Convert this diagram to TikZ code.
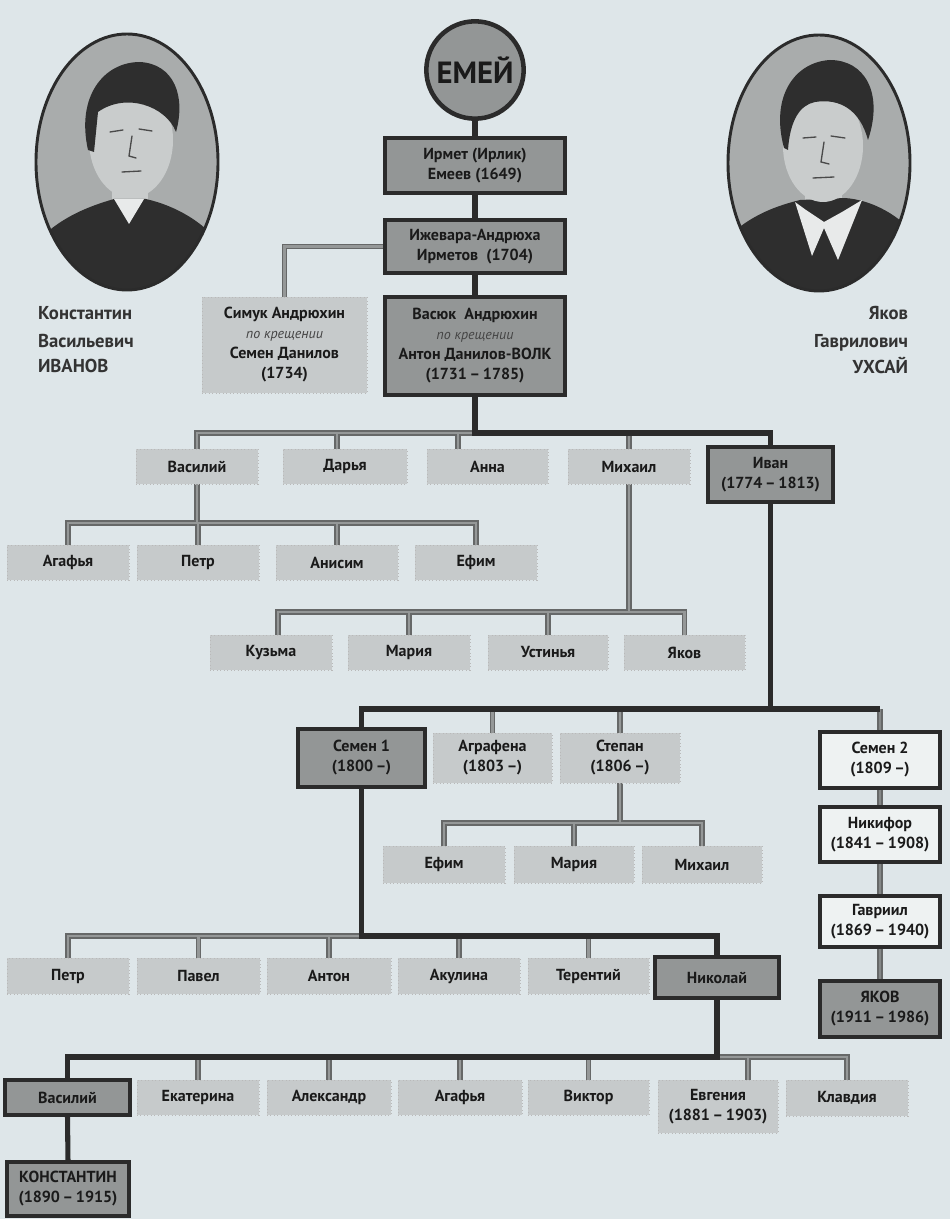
\documentclass[tikz,border=0pt]{standalone}
\usepackage{fontspec}
\setmainfont{PT Sans}
\definecolor{bgc}{HTML}{DEE6E9}
\definecolor{dline}{HTML}{2B2B2B}
\definecolor{ltouter}{HTML}{666868}
\definecolor{ltinner}{HTML}{959898}
\definecolor{midinner}{HTML}{858888}
\definecolor{dkfill}{HTML}{939696}
\definecolor{ltfill}{HTML}{C6CACB}
\definecolor{wfill}{HTML}{EEF2F2}
\definecolor{txt}{HTML}{1A1A1A}
\definecolor{italc}{HTML}{444444}
\definecolor{photobg}{HTML}{A9ACAC}
\definecolor{photodk}{HTML}{2E2E2E}
\definecolor{face}{HTML}{C9CCCC}
\definecolor{photolt}{HTML}{E8EAEA}
\definecolor{featc}{HTML}{4A4A4A}
\pgfdeclarelayer{bg}
\pgfdeclarelayer{lines}
\pgfsetlayers{bg,lines,main}
\newcommand\krsch{{\mdseries\itshape\color{italc}\fontsize{10.5}{14}\selectfont по крещении}}
\newcommand\bx[7]{\pgfmathsetmacro\bxw{(#5-#3)*0.75}\pgfmathsetmacro\bxh{(#6-#4)*0.75}%
  \node[#2,minimum width=\bxw pt,minimum height=\bxh pt] (#1) at ({(#3+#5)/2},{(#4+#6)/2}) {#7};}
\newcommand\drp[2]{\draw (#1.north) -- (#1.north |- #2);}
\newcommand\lightnet{%
  \draw (izhev.west) -| (simuk.north);
  \draw (vas1.north) |- (vasyuk.south |- b1);
  \draw (dar.north -| dDar) -- (dDar);
  \draw (ann.north -| dAnn) -- (dAnn);
  \drp{mikh1}{b1}
  \draw (vas1.south) -- (vas1.south |- b2);
  \draw (agaf1.north) |- (efim1.north |- b2) -- (efim1.north);
  \drp{petr1}{b2}\drp{anis}{b2}
  \draw (mikh1.south) -- (mikh1.south |- b3);
  \draw (kuzma.north -| dKuz) -- (dKuz) -- (yakov1.north |- b3) -- (yakov1.north);
  \drp{mariya1}{b3}\drp{ustin}{b3}
  \drp{agraf}{b4}\drp{stepan}{b4}
  \draw (stepan.south) -- (stepan.south |- b5);
  \draw (efim2.north) |- (mikh2.north |- b5) -- (mikh2.north);
  \drp{mariya2}{b5}
  \draw (petr2.north) |- (semen1.south |- b6);
  \drp{pavel}{b6}\drp{anton}{b6}\drp{akul}{b6}\drp{teren}{b6}
  \draw (nikol.south |- b7) -| (klav.north);
  \drp{ekat}{b7}\drp{alex}{b7}\drp{agaf2}{b7}\drp{viktor}{b7}
  \draw (evgen.north -| dEvg) -- (dEvg);
}
\newcommand\midnet{%
  \draw (semen2.north |- b4) -- (semen2.north);
  \draw (semen2.south) -- (nikif.north);
  \draw (nikif.south) -- (gavr.north);
  \draw (gavr.south) -- (yakov2.north);
}
\begin{document}
\begin{tikzpicture}[x=0.75pt,y=-0.75pt,
  every node/.style={inner sep=0pt,outer sep=0pt,align=center,text=txt},
  boxfont/.style={font=\bfseries\fontsize{12}{15}\selectfont},
  boxdk/.style={boxfont,draw=dline,line width=3.4pt,fill=dkfill},
  boxlt/.style={boxfont,draw=gray!55,dotted,line width=0.6pt,fill=ltfill},
  boxwh/.style={boxfont,draw=dline,line width=3pt,fill=wfill},
  capt/.style={font=\bfseries\fontsize{14}{18}\selectfont,text=black!80},
  feat/.style={draw=featc,line width=1pt,line cap=round}]

\begin{pgfonlayer}{bg}
  \fill[bgc] (0,0) rectangle (950,1219);
\end{pgfonlayer}

% ---------- portraits ----------
\begin{scope}
  \clip (127,162) ellipse [x radius=91,y radius=128];
  \fill[photobg] (30,30) rectangle (230,300);
  \fill[face] (112,170) rectangle (148,205);
  \fill[photodk] (20,300) -- (30,250) .. controls (55,218) and (90,206) .. (114,199) -- (146,199) .. controls (176,206) and (205,222) .. (225,250) -- (235,300) -- cycle;
  \fill[photolt] (114,199) -- (129,224) -- (144,199) -- cycle;
  \fill[face] (131,140) ellipse [x radius=42,y radius=58];
  \fill[photodk] (88,150) .. controls (76,96) and (104,62) .. (140,62) .. controls (174,64) and (186,96) .. (176,132) .. controls (166,106) and (126,92) .. (98,112) -- (94,152) -- cycle;
  \draw[feat] (110,132) -- (123,130);
  \draw[feat] (139,129) -- (152,131);
  \draw[feat] (132,136) -- (129,156) -- (136,158);
  \draw[feat] (122,172) -- (141,171);
\end{scope}
\draw[dline,line width=2.2pt] (127,162) ellipse [x radius=91,y radius=128];

\begin{scope}
  \clip (819,163) ellipse [x radius=91,y radius=128];
  \fill[photobg] (720,30) rectangle (920,300);
  \fill[face] (805,175) rectangle (842,215);
  \fill[photodk] (715,300) -- (725,240) .. controls (750,214) and (780,205) .. (800,200) -- (845,198) .. controls (872,200) and (900,215) .. (920,240) -- (925,300) -- cycle;
  \fill[photolt] (795,202) -- (812,256) -- (824,228) -- (838,260) -- (862,200) -- (842,212) -- (824,222) -- (806,210) -- cycle;
  \fill[face] (823,146) ellipse [x radius=40,y radius=56];
  \fill[photodk] (784,148) .. controls (770,96) and (795,62) .. (830,60) .. controls (864,60) and (884,92) .. (868,140) .. controls (860,110) and (840,98) .. (815,102) .. controls (800,105) and (790,120) .. (788,150) -- cycle;
  \draw[feat] (803,138) -- (816,137);
  \draw[feat] (831,136) -- (845,138);
  \draw[feat] (824,142) -- (821,162) -- (829,164);
  \draw[feat] (813,178) -- (834,177);
\end{scope}
\draw[dline,line width=2.2pt] (819,163) ellipse [x radius=91,y radius=128];

% ---------- captions ----------
\node[capt,anchor=base west] (capL1) at (38,320) {Константин};
\node[capt,anchor=base west] (capL2) at (38,347) {Васильевич};
\node[capt,anchor=base west] (capL3) at (38,372) {ИВАНОВ};
\node[capt,anchor=base east] (capR1) at (908,320) {Яков};
\node[capt,anchor=base east] (capR2) at (908,347) {Гаврилович};
\node[capt,anchor=base east] (capR3) at (908,373) {УХСАЙ};

% ---------- nodes ----------
\node[circle,draw=dline,line width=3.4pt,fill=dkfill,minimum size=73pt,font=\bfseries\fontsize{23}{23}\selectfont] (emei) at (475,70) {ЕМЕЙ};
\bx{irmet}{boxdk}{385}{138}{565}{193}{Ирмет (Ирлик)\\Емеев (1649)}
\bx{izhev}{boxdk}{385}{220}{565}{273}{Ижевара-Андрюха\\Ирметов\ \ (1704)}
\bx{simuk}{boxlt}{202}{297}{367}{393}{Симук Андрюхин\\ \krsch \\Семен Данилов\\(1734)}
\bx{vasyuk}{boxdk}{385}{297}{565}{395}{Васюк\ \ Андрюхин\\ \krsch \\Антон Данилов-ВОЛК\\(1731\,–\,1785)}

\bx{vas1}{boxlt}{136}{449}{258}{484}{Василий}
\bx{dar}{boxlt}{283}{449}{407}{484}{Дарья}
\bx{ann}{boxlt}{427}{449}{548}{484}{Анна}
\bx{mikh1}{boxlt}{568}{449}{690}{484}{Михаил}
\bx{ivan}{boxdk}{708}{447}{833}{502}{Иван\\(1774\,–\,1813)}

\bx{agaf1}{boxlt}{7}{545}{129}{580}{Агафья}
\bx{petr1}{boxlt}{137}{545}{259}{580}{Петр}
\bx{anis}{boxlt}{276}{545}{398}{580}{Анисим}
\bx{efim1}{boxlt}{415}{545}{537}{580}{Ефим}

\bx{kuzma}{boxlt}{210}{635}{332}{670}{Кузьма}
\bx{mariya1}{boxlt}{348}{635}{470}{670}{Мария}
\bx{ustin}{boxlt}{488}{635}{608}{670}{Устинья}
\bx{yakov1}{boxlt}{624}{635}{745}{670}{Яков}

\bx{semen1}{boxdk}{298}{729}{425}{787}{Семен 1\\(1800\,–)}
\bx{agraf}{boxlt}{433}{733}{552}{783}{Аграфена\\(1803\,–)}
\bx{stepan}{boxlt}{560}{733}{680}{783}{Степан\\(1806\,–)}
\bx{semen2}{boxwh}{820}{732}{940}{788}{Семен 2\\(1809\,–)}

\bx{efim2}{boxlt}{383}{846}{505}{883}{Ефим}
\bx{mariya2}{boxlt}{514}{846}{634}{883}{Мария}
\bx{mikh2}{boxlt}{642}{846}{762}{883}{Михаил}

\bx{nikif}{boxwh}{820}{807}{940}{862}{Никифор\\(1841\,–\,1908)}
\bx{gavr}{boxwh}{820}{896}{940}{947}{Гавриил\\(1869\,–\,1940)}
\bx{yakov2}{boxdk}{820}{981}{940}{1037}{ЯКОВ\\(1911\,–\,1986)}

\bx{petr2}{boxlt}{7}{958}{129}{994}{Петр}
\bx{pavel}{boxlt}{137}{958}{260}{994}{Павел}
\bx{anton}{boxlt}{267}{958}{391}{994}{Антон}
\bx{akul}{boxlt}{398}{958}{520}{994}{Акулина}
\bx{teren}{boxlt}{528}{958}{649}{994}{Терентий}
\bx{nikol}{boxdk}{655}{957}{779}{998}{Николай}

\bx{vas2}{boxdk}{5}{1080}{130}{1115}{Василий}
\bx{ekat}{boxlt}{137}{1080}{259}{1115}{Екатерина}
\bx{alex}{boxlt}{267}{1080}{391}{1115}{Александр}
\bx{agaf2}{boxlt}{398}{1080}{522}{1115}{Агафья}
\bx{viktor}{boxlt}{528}{1080}{649}{1115}{Виктор}
\bx{evgen}{boxlt}{658}{1080}{778}{1133}{Евгения\\(1881\,–\,1903)}
\bx{klav}{boxlt}{786}{1080}{908}{1116}{Клавдия}

\bx{konst}{boxdk}{7}{1162}{129}{1216}{КОНСТАНТИН\\(1890\,–\,1915)}

% ---------- bar levels ----------
\coordinate (b1) at (0,433);
\coordinate (b2) at (0,523);
\coordinate (b3) at (0,612);
\coordinate (b4) at (0,709);
\coordinate (b5) at (0,823);
\coordinate (b6) at (0,936);
\coordinate (b7) at (0,1057);
\coordinate (dDar) at (337,433);
\coordinate (dAnn) at (458,433);
\coordinate (dKuz) at (278,612);
\coordinate (dEvg) at (748,1057);

% ---------- connectors ----------
\begin{pgfonlayer}{lines}
  \begin{scope}[draw=ltouter,line width=3.8pt]
    \lightnet
    \midnet
  \end{scope}
  \begin{scope}[draw=ltinner,line width=2pt]
    \lightnet
  \end{scope}
  \begin{scope}[draw=midinner,line width=2pt]
    \midnet
  \end{scope}
  \begin{scope}[draw=dline,line width=3.8pt]
    \draw (emei.south) -- (irmet.north);
    \draw (irmet.south) -- (izhev.north);
    \draw (izhev.south) -- (vasyuk.north);
    \draw (vasyuk.south) |- (ivan.north |- b1) -- (ivan.north);
    \draw (ivan.south) -- (ivan.south |- b4);
    \draw (semen1.north) |- (semen2.north |- b4);
    \draw (semen1.south) |- (nikol.north |- b6) -- (nikol.north);
    \draw (nikol.south) |- (vas2.north |- b7) -- (vas2.north);
    \draw (vas2.south) -- (konst.north);
  \end{scope}
\end{pgfonlayer}
\end{tikzpicture}
\end{document}
